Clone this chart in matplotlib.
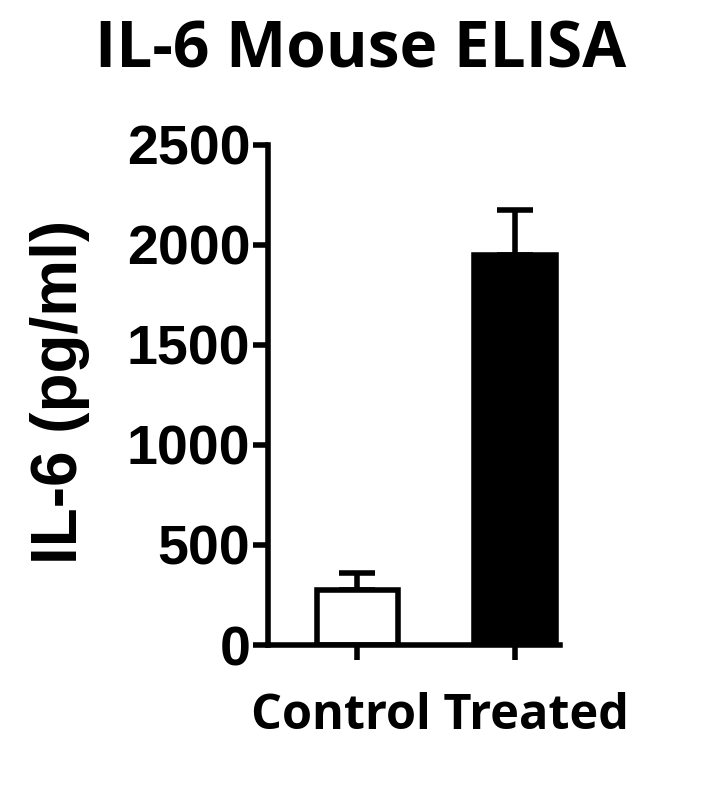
import matplotlib
matplotlib.use("Agg")
import matplotlib.pyplot as plt

groups = ["Control", "Treated"]
values = [275, 1950]
errors = [85, 225]
colors = ["white", "black"]
yticks = [0, 500, 1000, 1500, 2000, 2500]

fig = plt.figure(figsize=(7.25, 8.08), dpi=100)
ax = fig.add_axes([0.370, 0.2017, 0.403, 0.619])
x = [0, 1]
ax.bar(x, values, width=0.52, color=colors, edgecolor="black", linewidth=4, zorder=2)
for xi, v, e in zip(x, values, errors):
    ax.errorbar([xi], [v], yerr=[[0], [e]], color="black", elinewidth=4, capsize=13, capthick=4, zorder=1)
ax.set_xlim(-0.567, 1.29)
ax.set_ylim(0, 2500)
ax.set_yticks(yticks)
ax.set_yticklabels([str(t) for t in yticks], fontsize=40, fontweight="bold", family="Liberation Sans")
ax.set_xticks(x)
ax.set_xticklabels([])
for s in ["top", "right"]:
    ax.spines[s].set_visible(False)
for s in ["left", "bottom"]:
    ax.spines[s].set_linewidth(4)
ax.tick_params(width=4, length=11, pad=2)
fig.text(0.083, 0.515, "IL-6 (pg/ml)", ha="center", va="center", rotation=90,
         fontsize=46, fontweight="bold", family="Liberation Sans")
fig.text(0.497, 0.937, "IL-6 Mouse ELISA", ha="center", va="center", fontsize=46, fontweight="bold", family="Open Sans")
fig.text(0.607, 0.113, "Control Treated", ha="center", va="center", fontsize=35, fontweight="bold", family="Open Sans")
fig.savefig("out.png", dpi=100)
